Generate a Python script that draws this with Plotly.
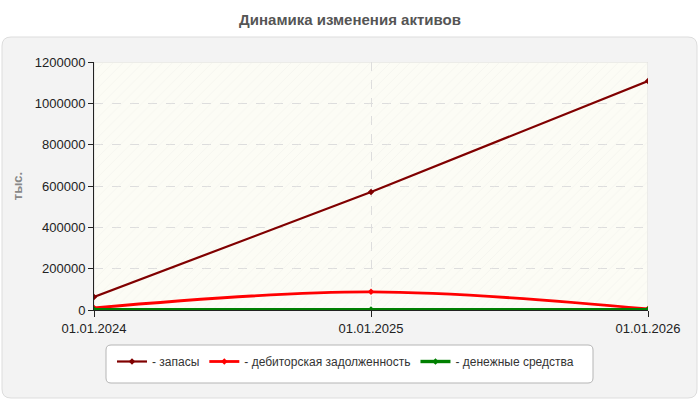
import plotly.graph_objects as go

# ---- data ----
dates = ["01.01.2024", "01.01.2025", "01.01.2026"]
zapasy = [63000, 571000, 1108000]
debitor = [10000, 88000, 5000]
dengi = [2000, 2000, 2000]

series_names = ["- запасы", "- дебиторская задолженность", "- денежные средства"]
series_colors = ["#800000", "#ff0000", "#008000"]
y_ticks = [0, 200000, 400000, 600000, 800000, 1000000, 1200000]

W, H = 700, 400
L, R, T, B = 94, 648, 62, 310  # plot area in px


def px(x):
    return (x - L) / (R - L)


def py(y):
    return (B - y) / (B - T)


def rounded(x0, y0, x1, y1, r):
    rx = r / (R - L)
    ry = r / (B - T)
    X0, X1 = px(x0), px(x1)
    Yt, Yb = py(y0), py(y1)
    return (f"M{X0+rx},{Yt} L{X1-rx},{Yt} Q{X1},{Yt} {X1},{Yt-ry} "
            f"L{X1},{Yb+ry} Q{X1},{Yb} {X1-rx},{Yb} L{X0+rx},{Yb} "
            f"Q{X0},{Yb} {X0},{Yb+ry} L{X0},{Yt-ry} Q{X0},{Yt} {X0+rx},{Yt} Z")


fig = go.Figure()

# hatched background of plot area
fig.add_trace(go.Bar(
    x=[dates[1]], y=[y_ticks[-1]], width=[2],
    marker=dict(color="rgba(0,0,0,0)", line=dict(width=0),
                pattern=dict(shape="/", fgcolor="#ebebe6", size=7, solidity=0.12)),
    hoverinfo="skip", showlegend=False,
))

for vals, name, col, w in zip([zapasy, debitor, dengi], series_names, series_colors, [2.2, 2.8, 3.4]):
    fig.add_trace(go.Scatter(
        x=dates, y=vals, name=name, mode="lines+markers",
        line=dict(color=col, width=w, shape="spline" if name == series_names[1] else "linear"),
        marker=dict(symbol="diamond", size=5, color=col),
    ))

shapes = [
    # outer grey panel
    dict(type="path", xref="paper", yref="paper", path=rounded(2, 37, 697, 398, 9),
         fillcolor="#f3f3f3", line=dict(color="#dddddd", width=1), layer="below"),
    # legend box
    dict(type="path", xref="paper", yref="paper", path=rounded(106, 345, 593, 383, 5),
         fillcolor="#ffffff", line=dict(color="#b5b5b5", width=1), layer="below"),
    # plot area background
    dict(type="rect", xref="x", yref="y", x0=0, x1=2, y0=0, y1=y_ticks[-1],
         fillcolor="#fcfcf5", line=dict(color="#dcdcdc", width=1), layer="below"),
]

fig.update_layout(
    width=W, height=H,
    margin=dict(l=L, r=W - R, t=T, b=H - B),
    paper_bgcolor="#ffffff",
    plot_bgcolor="rgba(0,0,0,0)",
    font=dict(family="Liberation Sans, Arial, sans-serif", size=13, color="#222222"),
    title=dict(text="<b>Динамика изменения активов</b>", x=0.5, xanchor="center",
               y=1 - 20 / H, yref="container", yanchor="middle",
               font=dict(size=15, color="#555555")),
    shapes=shapes,
    showlegend=True,
    legend=dict(orientation="h", x=px(112), xanchor="left", y=py(347), yanchor="top",
                bgcolor="rgba(0,0,0,0)", font=dict(size=12, color="#333333"),
                itemwidth=30, tracegroupgap=0),
    hovermode=False,
    bargap=0,
)

fig.update_xaxes(
    type="category", categoryorder="array", categoryarray=dates, range=[0, 2],
    showline=True, linecolor="#222222", linewidth=1,
    ticks="outside", ticklen=6, tickcolor="#222222",
    showgrid=True, gridcolor="#dddddd", griddash="dash", gridwidth=1,
    tickfont=dict(size=13, color="#222222"),
    zeroline=False,
)
fig.update_yaxes(
    range=[0, y_ticks[-1]], tickvals=y_ticks, tickformat="d",
    showline=True, linecolor="#222222", linewidth=1,
    ticks="outside", ticklen=5, tickcolor="#222222",
    showgrid=True, gridcolor="#dddddd", griddash="dash", gridwidth=1,
    zeroline=False,
    tickfont=dict(size=13, color="#222222"),
    title=dict(text="<b>тыс.</b>", standoff=9, font=dict(size=13, color="#888888")),
)

fig.write_html("out.html")
